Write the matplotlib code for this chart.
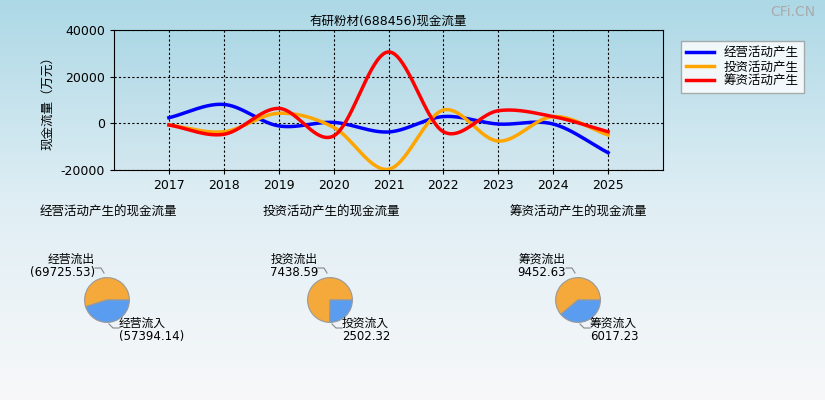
import numpy as np
import matplotlib
matplotlib.use("Agg")
import matplotlib.pyplot as plt
from matplotlib.colors import LinearSegmentedColormap
from matplotlib import font_manager as fm

cjk = [f.name for f in fm.fontManager.ttflist if 'CJK' in f.name]
fams = []
for n in ['Noto Sans CJK SC', 'Noto Sans CJK JP', 'Noto Sans CJK TC', 'Noto Sans CJK KR'] + cjk:
    if n not in fams:
        fams.append(n)
plt.rcParams['font.family'] = ['DejaVu Sans'] + fams
plt.rcParams['axes.unicode_minus'] = False

years = [2017, 2018, 2019, 2020, 2021, 2022, 2023, 2024, 2025]
op = [2400, 8100, -1100, 400, -3700, 2900, -300, -300, -12600]
inv = [-700, -3600, 4300, -1700, -19700, 5700, -7600, 2900, -5000]
fin = [-700, -4700, 6400, -5400, 30600, -3600, 5400, 2900, -3600]
series_names = ['经营活动产生', '投资活动产生', '筹资活动产生']
colors = ['#0000ff', '#ffa500', '#ff0000']

pie_titles = ['经营活动产生的现金流量', '投资活动产生的现金流量', '筹资活动产生的现金流量']
pie_out_labels = ['经营流出', '投资流出', '筹资流出']
pie_in_labels = ['经营流入', '投资流入', '筹资流入']
pie_out = [69725.53, 7438.59, 9452.63]
pie_in = [57394.14, 2502.32, 6017.23]
pie_out_txt = ['(69725.53)', '7438.59', '9452.63']
pie_in_txt = ['(57394.14)', '2502.32', '6017.23']

def catmull(x, y, n=40):
    x = np.asarray(x, float); y = np.asarray(y, float)
    xp = np.concatenate([[2*x[0]-x[1]], x, [2*x[-1]-x[-2]]])
    yp = np.concatenate([[2*y[0]-y[1]], y, [2*y[-1]-y[-2]]])
    xs, ys = [], []
    for i in range(1, len(xp)-2):
        t = np.linspace(0, 1, n)
        for arr, out in ((xp, xs), (yp, ys)):
            p0, p1, p2, p3 = arr[i-1], arr[i], arr[i+1], arr[i+2]
            out.extend(0.5*((2*p1) + (-p0+p2)*t + (2*p0-5*p1+4*p2-p3)*t**2 + (-p0+3*p1-3*p2+p3)*t**3))
    return np.array(xs), np.array(ys)

W, H = 825, 400
fig = plt.figure(figsize=(W/100, H/100), dpi=100)
bg = fig.add_axes([0, 0, 1, 1], zorder=-10)
grad = np.linspace(0, 1, 256)[:, None]
cm = LinearSegmentedColormap.from_list('bg', ['#add8e6', '#dfeef4', '#f8f8fa'])
bg.imshow(grad, aspect='auto', cmap=cm, extent=[0, 1, 0, 1])
bg.axis('off')

ax = fig.add_axes([114/W, 1-170/H, (663-114)/W, 140/H])
cm2 = LinearSegmentedColormap.from_list('pl', ['#add8e6', '#d3e7ef'])
ax.imshow(grad, aspect='auto', cmap=cm2, extent=[2016, 2026, -20000, 40000], zorder=0)
for vals, c, nm in zip([op, inv, fin], colors, series_names):
    xs, ys = catmull(years, vals)
    ax.plot(xs, ys, color=c, lw=2.5, label=nm, zorder=3)
ax.set_xlim(2016, 2026)
ax.set_ylim(-20000, 40000)
ax.set_xticks(years)
ax.set_yticks([-20000, 0, 20000, 40000])
ax.tick_params(labelsize=9, length=3)
ax.grid(True, color='black', linestyle=(0, (2, 2)), lw=0.8)
ax.set_ylabel('现金流量（万元）', fontsize=9)
ax.set_title('有研粉材(688456)现金流量', fontsize=9, pad=4)
for s in ax.spines.values():
    s.set_color('black')
ax.legend(loc='upper left', bbox_to_anchor=(675/W, 1-35/H), bbox_transform=fig.transFigure,
          fontsize=9, frameon=True, fancybox=False, edgecolor='#999999', facecolor='white',
          handlelength=2.2, borderpad=0.4, labelspacing=0.1)

fig.text(815/W, 1-12/H, 'CFi.CN', ha='right', va='center', fontsize=10, color='#aaaaaa')

centers = [107, 330, 578]
title_x = [40, 263, 510]
r = 28
for i in range(3):
    fig.text(title_x[i]/W, 1-212/H, pie_titles[i], ha='left', va='center', fontsize=9)
    pa = fig.add_axes([(centers[i]-r)/W, 1-(300+r)/H, 2*r/W, 2*r/H])
    pa.pie([pie_out[i], pie_in[i]], colors=['#f4a93a', '#5a9cf0'], startangle=0, counterclock=True,
           wedgeprops=dict(edgecolor='#999999', linewidth=0.8))
    pa.set_aspect('equal')
    cx = centers[i]
    fig.text((cx-12)/W, 1-266/H, pie_out_labels[i] + '\n' + pie_out_txt[i], ha='right', va='center',
             fontsize=8.5, linespacing=1.0, multialignment='right')
    fig.add_artist(plt.Line2D([(cx-12)/W, (cx-6)/W, (cx-3)/W], [1-268/H, 1-268/H, 1-273/H], color='#888888', lw=0.8))
    fig.text((cx+12)/W, 1-330/H, pie_in_labels[i] + '\n' + pie_in_txt[i], ha='left', va='center',
             fontsize=8.5, linespacing=1.0)
    fig.add_artist(plt.Line2D([(cx+12)/W, (cx+6)/W, (cx+2)/W], [1-328/H, 1-328/H, 1-324/H], color='#888888', lw=0.8))

fig.savefig('out.png', dpi=100)
